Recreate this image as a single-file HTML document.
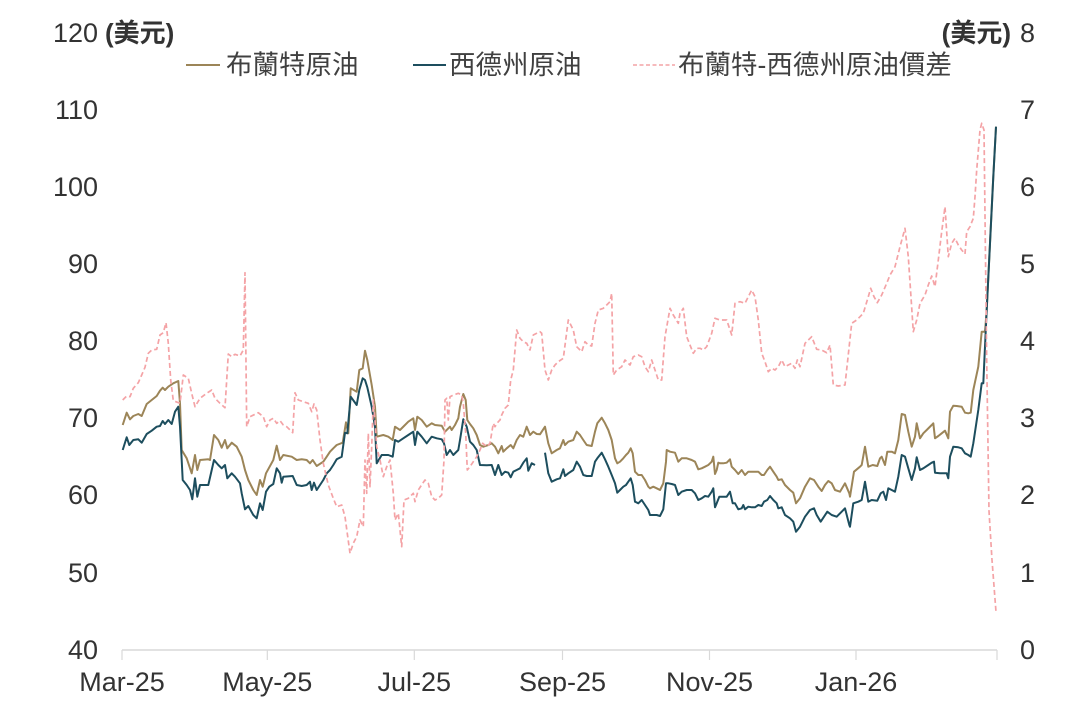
<!DOCTYPE html>
<html>
<head>
<meta charset="utf-8">
<style>
html,body{margin:0;padding:0;background:#fff;}
svg{display:block;}
.t{font-family:"Liberation Sans","Noto Sans CJK TC",sans-serif;fill:#333;}
.c{font-family:"Liberation Sans","Noto Sans CJK TC",sans-serif;fill:#404040;}
</style>
</head>
<body>
<svg width="1077" height="718" viewBox="0 0 1077 718" xmlns="http://www.w3.org/2000/svg">
<rect width="1077" height="718" fill="#fff"/>

<!-- left axis labels -->
<g class="t" font-size="27" text-anchor="end">
<text x="98" y="42">120</text>
<text x="98" y="119">110</text>
<text x="98" y="196">100</text>
<text x="98" y="273">90</text>
<text x="98" y="350">80</text>
<text x="98" y="427">70</text>
<text x="98" y="504">60</text>
<text x="98" y="582">50</text>
<text x="98" y="659">40</text>
</g>
<text class="t" x="105" y="42" font-size="26" font-weight="bold">(美元)</text>

<!-- right axis labels -->
<g class="t" font-size="27">
<text x="1020" y="42">8</text>
<text x="1020" y="119">7</text>
<text x="1020" y="196">6</text>
<text x="1020" y="273">5</text>
<text x="1020" y="350">4</text>
<text x="1020" y="427">3</text>
<text x="1020" y="504">2</text>
<text x="1020" y="582">1</text>
<text x="1020" y="659">0</text>
</g>
<text class="t" x="1011" y="42" font-size="26" font-weight="bold" text-anchor="end">(美元)</text>

<!-- legend -->
<line x1="186" y1="65" x2="220" y2="65" stroke="#9c8558" stroke-width="2"/>
<text class="c" x="226" y="74" font-size="26.5">布蘭特原油</text>
<line x1="413" y1="65" x2="446" y2="65" stroke="#1d4e5e" stroke-width="2"/>
<text class="c" x="449" y="74" font-size="26.5">西德州原油</text>
<line x1="633" y1="65" x2="675" y2="65" stroke="#f4a3a6" stroke-width="1.6" stroke-dasharray="4,2.5"/>
<text class="c" x="678" y="74" font-size="26.5">布蘭特-西德州原油價差</text>

<!-- x axis -->
<line x1="122" y1="650" x2="997" y2="650" stroke="#d9d9d9" stroke-width="1.5"/>
<g stroke="#d9d9d9" stroke-width="1.2">
<line x1="122" y1="650" x2="122" y2="660"/>
<line x1="267.3" y1="650" x2="267.3" y2="660"/>
<line x1="414.3" y1="650" x2="414.3" y2="660"/>
<line x1="562.5" y1="650" x2="562.5" y2="660"/>
<line x1="709.5" y1="650" x2="709.5" y2="660"/>
<line x1="856" y1="650" x2="856" y2="660"/>
<line x1="997" y1="650" x2="997" y2="660"/>
</g>
<g class="t" font-size="27" text-anchor="middle">
<text x="122" y="691">Mar-25</text>
<text x="267.3" y="691">May-25</text>
<text x="414.3" y="691">Jul-25</text>
<text x="562.5" y="691">Sep-25</text>
<text x="709.5" y="691">Nov-25</text>
<text x="856" y="691">Jan-26</text>
</g>

<!-- Brent -->
<polyline fill="none" stroke="#9c8558" stroke-width="2" stroke-linejoin="round" points="122.7,425 126.7,412.7 130,419.3 133.3,416 138.3,414 141.7,416 146.7,404 151.7,400 156.7,396 160,390.7 162.7,387.7 165,390 168.3,386.7 173.3,383.3 178.3,381 180,403.3 181.7,450 186.7,458.3 191.7,473.3 195,455 197.3,470 200,460 208.3,459.3 210,460 214,435 218.3,440 221.7,447.7 225,440 227.3,448.3 231.7,442.7 236.7,446.7 241.7,456.7 245,470 248.3,480 253.3,490 256.7,495 260,480 262.7,486.7 266,473.3 273.3,460 276.7,445.7 280,460 283.3,455 291.7,456.7 296.7,460 301.7,459.3 306.7,460 310,463.3 312.7,460 316.7,466 323.3,461.7 326.7,456.7 330,451.7 333.3,448.3 336.7,445 342.7,442.7 346,422.3 348.3,433.3 350.7,388.3 356.7,391.7 359.3,370 362.7,368.3 365,350.7 367.3,360 371.7,385 375,406.7 376.7,436.7 383.3,435 388.3,436.7 392.7,440 395,426.7 400,430 404,426 408.3,421.7 413.3,418.3 415,430 417.3,416.7 421.7,420 426.7,426.7 431.7,423.3 435,425 441.7,425.7 445,431.7 450,426.7 451.7,430 455,425 458.3,418.3 460,406.7 463.3,394 465.7,400 467.3,420 470,424 473.3,428.3 476.7,435 480,445 483.3,446.7 488.3,445 491.7,443.3 495,446.7 498.3,453.3 501.7,446 503.3,451.7 506.7,448.3 510.7,445 513.3,448.3 516.7,440 520,435 523.3,436.7 526.7,426.7 530,435 533.3,431.7 536.7,434 540,434.3 545,426.7 548.3,443.3 551.7,453.3 556.7,450 560,448.3 563.3,440 565,445 568.3,441.7 573.3,440 576.7,431.7 580,435 583.3,440 586.7,445 591.7,446 595,431.7 597.3,423.3 601.7,417.7 605,423.3 608.3,430 611.7,440 615,458.3 617.3,463.3 620,461.7 623.3,458.3 626,455 628.3,452.7 630.7,448.3 632.7,453.3 635,471.7 638.3,475 641.7,475 645,480 648.3,486.7 650,488.3 653.3,486.7 656.7,488.3 660,490 663.3,483.3 666,461.7 666.7,450 670,451.7 675,452.7 678.3,461.7 681.7,458.3 686.7,458.3 691.7,460 695,461.7 698.3,469.3 701.7,468.3 705,466.7 708.3,465 711.7,461.7 713.3,456.7 715,474 716.7,470 718.3,462.7 720,463.3 723.3,463.3 726.7,462.7 730,459.3 731.7,466.7 735,470 738.3,474 741.7,470 745,475 748.3,471.7 751.7,471.7 758.3,471.7 761.7,475 764,475 767.3,470 770,466.7 773.3,471.7 776.7,476.7 778.3,480 781.7,479.3 785,485 790,490 793.3,492.7 796,503.3 800,498.3 805,486.7 810,478.3 814,480 818.3,486.7 821.7,491 825,485 828.3,481 831.7,483.3 835,490 840,491.7 845,483.3 849.3,493.3 850,496.7 854,471.7 860,466.7 861.7,465 865,446.7 868.3,466.7 872.7,465 877.3,466 880,458.3 881.7,456.7 885,465 887.3,451.7 891.7,451.7 895,453.3 898.3,440 901.7,414 905,415 908.3,431.7 911.7,446.7 915,436.7 916.7,423.3 920,438.3 923.3,433.3 926.7,430 931.7,425 933.3,423.3 935,438.3 938.3,436 941.7,433.3 945,430.7 948.3,438.3 950,411.7 953.3,405.7 956.7,406 961.7,406.7 965,412.7 968.3,413.3 970.7,412.7 973.3,390 978.3,366.7 981.7,331.7 985,331.7 986.7,310 990,243.3 993.3,176.7 996,126.7"/>

<!-- WTI -->
<g fill="none" stroke="#1d4e5e" stroke-width="2" stroke-linejoin="round">
<polyline points="122.7,450 126.7,437.3 129.3,445 133.3,440 138.3,439.3 141.7,442.7 146.7,434 151.7,430.7 156.7,426.7 160,426 162.7,421 165,424 168.3,420 171.7,424 175,411.7 178.3,406.7 180,426.7 182.7,480 186.7,485 190,490 192.3,499.3 195,478.3 197.3,496.7 200,485 208.3,485 214,460 218.3,465 221.7,468.3 225,465 227.3,478.3 231.7,473.3 235,476.7 240,483.3 241.7,493.3 245,509.3 248.3,506 253.3,515 256.7,518.3 260,503.3 262.7,510 266,491.7 269.3,486.7 273.3,484 276.7,468.3 280,473.3 281.7,482.7 283.3,476.7 292.7,476 296.7,485 301.7,486 306.7,485 310,481.7 311.7,490 314,482.7 316.7,490 323.3,480 326.7,473.3 330,470 333.3,465 336.7,459.3 341.7,456.7 345,432.7 347.3,433.3 350.7,396.7 356.7,405 359.3,390 362.7,378.3 365,380 367.3,387.3 371.7,406.7 375,426.7 376.7,463.3 381.7,455 388.3,455 392.7,456.7 395,440 398.3,441.7 403.3,438.3 408.3,435 413.3,431.7 415,445 417.3,431.7 421.7,436.7 426.7,443.3 431.7,436.7 436.7,438.3 441.7,439.3 444,443.3 446.7,455 450,450 453.3,455 458.3,450 460,440 463.3,419.3 466.7,426.7 470,441.7 473.3,445 476.7,450 480,465 486.7,465.3 491.7,465 495,475 498.3,465 501.7,475 505,471.7 508.3,472.7 510.7,477.3 513.3,471.7 516.7,470 520,468.3 523.3,462.7 526.7,458.3 528.3,470.7 531.7,463.3 535,465"/>
<polyline points="545,452.7 548.3,473.3 551.7,481.7 556.7,479.3 560,478.3 563.3,469.3 565,476 568.3,473.3 573.3,470 576.7,461.7 580,466.7 583.3,475 586.7,476 591.7,476 595,461.7 597.3,458.3 601.7,452.7 605,459.3 608.3,466.7 611.7,475 615,483.3 617.3,492.7 620,490 623.3,486.7 626,485 628.3,481.7 630.7,478.3 632.7,485 635,501.7 638.3,503.3 641.7,500 645,505 648.3,510 650,515 653.3,515 656.7,515 660,516 663.3,509.3 666,483.3 668.3,483.3 671.7,484 675,485 678.3,495 681.7,491.7 686.7,490 691.7,490 695,493.3 698.3,500 701.7,498.3 705,496 708.3,496.7 711.7,491.7 713.3,488.3 715,507.3 716.7,503.3 719.3,496.7 723.3,496.7 726.7,496.7 730,491.7 732.7,503.3 735,503.3 738.3,509.3 741.7,508.3 743.3,505 745,509.3 748.3,506.7 751.7,507.3 755,507.3 758.3,505 761.7,506 764,501.7 767.3,500 770,496 773.3,500 776.7,503.3 778.3,508.3 781.7,507.3 785,515 790,518.3 793.3,521.7 796,531.7 800,526.7 805,516.7 810,510 814,508.3 816.7,515 820.7,521.7 824,516.7 827.3,511.7 831.7,515 836.7,516.7 841.7,511.7 845,508.3 849.3,525 850,526.7 853.3,503.3 858.3,501.7 861.7,500 865,481.7 868.3,501.7 871.7,500 877.3,500.7 880.7,493.3 883.3,491.7 886,500 888.3,488.3 891.7,490 895,491.7 898.3,476.7 901.7,455 905,456.7 908.3,468.3 911.7,480 915,468.3 916.7,457.3 920,470 923.3,468.3 928.3,465 931.7,462.7 934,461.7 935,472.7 940,473.3 943.3,473.3 946.7,473.3 948.3,478.3 950,456.7 953.3,446.7 958.3,447.3 961.7,448.3 965,453.3 968.3,455 970.7,456.7 973.3,443.3 978.3,410 981.7,383.3 983.3,383.3 986.7,310 990,243.3 993.3,176.7 996,126.7"/>
</g>

<!-- Spread -->
<polyline fill="none" stroke="#f4a3a6" stroke-width="1.7" stroke-dasharray="5,3" stroke-linejoin="round" points="122.7,400 126.7,396 130,396.7 133.3,388.3 138.3,382.7 141.7,375 145,367.3 148.3,353.3 151.7,350 156.7,349.3 160,335 163.3,332.7 166,322.7 168.3,343.3 170.7,380 173.3,400.7 180,403.3 183.3,375 188.3,378.3 191.7,393.3 195,406.7 200,398.3 206.7,393.3 211.7,390 215,398.3 220,403.3 225,407.7 228.3,354 231.7,356.7 235,354.3 240,356 243.3,350 245,272.7 246.7,426.7 250,416.7 258.3,412.7 263.3,416.7 266.7,426.7 270,420 273.3,418.3 276.7,423.3 280,420.7 283.3,425 286.7,426.7 292.7,432.7 295,392.7 298.3,400 303.3,401.7 308.3,403.3 311.7,411.7 314,404 316.7,410 320,440 323.3,463.3 328.3,485 333.3,498.3 336.7,506.7 341.7,505 345,516.7 350,553.3 353.3,543.3 356.7,536.7 360,520 363.3,526.7 365,460 366.7,493.3 368.3,433.3 370,486.7 371.7,446.7 373.3,400 375,420 376.7,446.7 380,460 383.3,476.7 386.7,466.7 390,460 393.3,493.3 395,520 398.3,513.3 401.7,546.7 404,500 408.3,498.3 413.3,493.3 415,501.7 418.3,490 422.7,483.3 425,480 428.3,483.3 431.7,496.7 435,500 438.3,498.3 441.7,495 444,460 445,400 446.7,398.3 448.3,420 450,396.7 453.3,395 458.3,393.3 461.7,395 463.3,403.3 465.7,433.3 467.3,470 470,466.7 473.3,461.7 476.7,456.7 480,450 482.7,443.3 486.7,446.7 490,443.3 493.3,423.3 495,426.7 498.3,421.7 500,420 501.7,415 505,408.3 508.3,405 510.7,380 513.3,370 515,350 516.7,330 520,338.3 523.3,341.7 526.7,343.3 530,350 533.3,335 536.7,333.3 540,331.7 541.7,333.3 545,370 548.3,380 551.7,370 555,365 558.3,361.7 563.3,358.3 568.3,320 573.3,330 576.7,346.7 581.7,351.7 585,341.7 588.3,345 591.7,346 595,323.3 598.3,310 603.3,308.3 606.7,305 610,301.7 611.7,293.3 613.3,375 616.7,370 621.7,366.7 625,360 630,365 633.3,356.7 638.3,355 641.7,356.7 645,366.7 648.3,371.7 651.7,360 655,370 658.3,380 661.7,380 665,336.7 670,308.3 673.3,315 678.3,323.3 680,313.3 683.3,308.3 686.7,336.7 690,345 693.3,353.3 696.7,348.3 700,348.3 703.3,350 706.7,346.7 711.7,333.3 715,318.3 720,320 726.7,320 731.7,335 735,303.3 740,301.7 745,303.3 748.3,296.7 751.7,290 755,296.7 758.3,320 761.7,353.3 765,361.7 768.3,371.7 771.7,368.3 775,370 778.3,366.7 781.7,360 785,366.7 788.3,365 791.7,363.3 795,368.3 797.3,360 800,366.7 805,343.3 811.7,336.7 816.7,349.3 821.7,350 826.7,352.7 830,345 833.3,385 838.3,386 845,385 851.7,323.3 856.7,320 860,316.7 863.3,313.3 868.3,296.7 870.7,288.3 874,296.7 877.3,302.7 881.7,295 886.7,283.3 890,275 895,266.7 900,246.7 905,228.3 908.3,256.7 913.3,331.7 916.7,320 920,303.3 925,295 928.3,285 931.7,276 935,286.7 938.3,260 941.7,231.7 945,206.7 948.3,256.7 951.7,243.3 955,238.3 958.3,245 961.7,250 965,254 966.7,231.7 970,226.7 973.3,218.3 975,196.7 976.7,170 980,130 981.7,123.3 984,130 986.7,360 989,511 992,560 996,612"/>
</svg>
</body>
</html>
